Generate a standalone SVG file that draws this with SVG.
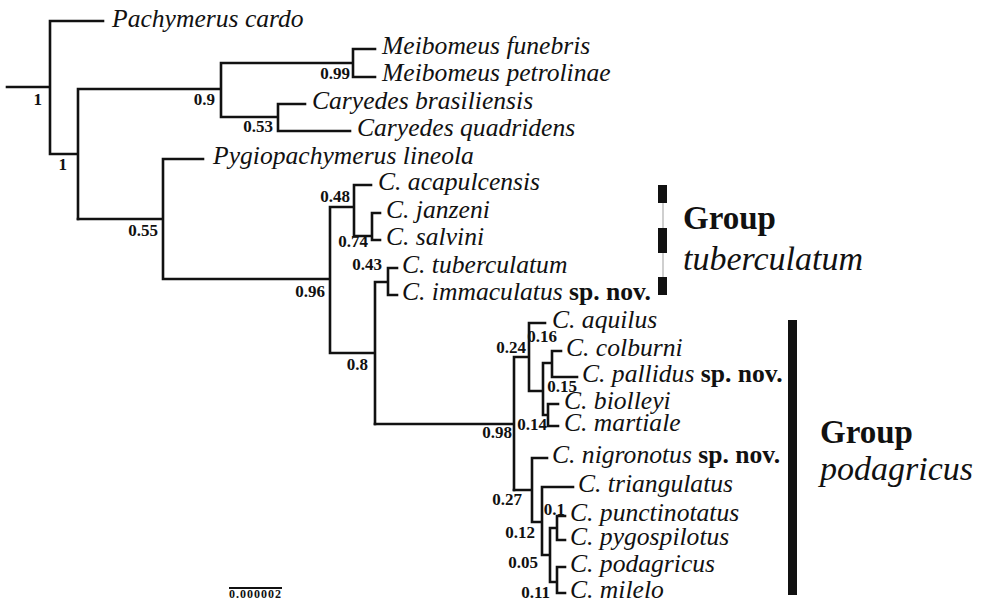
<svg xmlns="http://www.w3.org/2000/svg" width="987" height="607" viewBox="0 0 987 607">
<style>
.br{fill:none;stroke:#111;stroke-width:2.6;stroke-linecap:square}
.sp{font-family:"Liberation Serif","Times New Roman",serif;font-style:italic;font-size:25.6px;fill:#111}
.nv{font-style:normal;font-weight:bold}
.s{font-family:"Liberation Serif","Times New Roman",serif;font-weight:bold;font-size:17px;fill:#111;text-anchor:end}
.g1{font-family:"Liberation Serif","Times New Roman",serif;font-weight:bold;font-size:33px;fill:#111}
.g2{font-family:"Liberation Serif","Times New Roman",serif;font-style:italic;font-size:34px;fill:#111}
</style>
<rect width="987" height="607" fill="#fff"/>
<g id="connectors" class="br">
<path d="M7,87H50M50,21V154M50,21H103M50,154H78M78,89V219M78,89H221M221,63V117M221,63H353M353,49V77M353,49H375M353,77H375M221,117H278M278,104V131M278,104H305M278,131H350"/>
<path d="M78,219H163M163,159V279M163,159H203M163,279H330M330,207V353M330,207H354M354,185V236M354,185H371M354,236H372M372,213V240M372,213H380M372,240H380M330,353H375M375,282V424M375,282H388M388,268V295M388,268H397M388,295H397"/>
<path d="M375,424H514M514,357V490M514,357H529M529,323V391M529,323H545M529,391H543M543,363V415M543,363H552M552,351V377M552,351H561M552,377H577M543,415H548M548,404V426M548,404H558M548,426H558"/>
<path d="M514,490H532M532,458V522M532,458H547M532,522H542M542,487V555M542,487H573M542,555H550M550,528V582M550,528H557M557,516V540M557,516H565M557,540H565M550,582H557M557,567V593M557,567H565M557,593H565"/>
</g>
<g id="tips">
<g id="n-pachymerus"><text class="sp" x="112" y="27">Pachymerus cardo</text></g>
<g id="n-mfunebris"><text class="sp" x="382" y="54">Meibomeus funebris</text></g>
<g id="n-mpetrolinae"><text class="sp" x="382" y="81">Meibomeus petrolinae</text></g>
<g id="n-cbrasiliensis"><text class="sp" x="312" y="109">Caryedes brasiliensis</text></g>
<g id="n-cquadridens"><text class="sp" x="357" y="136">Caryedes quadridens</text></g>
<g id="n-pygio"><text class="sp" x="213" y="164">Pygiopachymerus lineola</text></g>
<g id="n-acapulcensis"><text class="sp" x="378" y="190">C. acapulcensis</text></g>
<g id="n-janzeni"><text class="sp" x="386" y="218">C. janzeni</text></g>
<g id="n-salvini"><text class="sp" x="386" y="245">C. salvini</text></g>
<g id="n-tuberculatum"><text class="sp" x="402" y="273">C. tuberculatum</text></g>
<g id="n-immaculatus"><text class="sp" x="402" y="300">C. immaculatus <tspan class="nv">sp. nov.</tspan></text></g>
<g id="n-aquilus"><text class="sp" x="552" y="328">C. aquilus</text></g>
<g id="n-colburni"><text class="sp" x="566" y="356">C. colburni</text></g>
<g id="n-pallidus"><text class="sp" x="582" y="382">C. pallidus <tspan class="nv">sp. nov.</tspan></text></g>
<g id="n-biolleyi"><text class="sp" x="564" y="409">C. biolleyi</text></g>
<g id="n-martiale"><text class="sp" x="564" y="431">C. martiale</text></g>
<g id="n-nigronotus"><text class="sp" x="552" y="463">C. nigronotus <tspan class="nv">sp. nov.</tspan></text></g>
<g id="n-triangulatus"><text class="sp" x="578" y="492">C. triangulatus</text></g>
<g id="n-punctinotatus"><text class="sp" x="570" y="521">C. punctinotatus</text></g>
<g id="n-pygospilotus"><text class="sp" x="570" y="545">C. pygospilotus</text></g>
<g id="n-podagricus"><text class="sp" x="570" y="572">C. podagricus</text></g>
<g id="n-milelo"><text class="sp" x="570" y="598">C. milelo</text></g>
</g>
<g id="support">
<text class="s" x="42" y="105">1</text>
<text class="s" x="67" y="170">1</text>
<text class="s" x="215" y="105">0.9</text>
<text class="s" x="350" y="79">0.99</text>
<text class="s" x="273" y="132">0.53</text>
<text class="s" x="158" y="236">0.55</text>
<text class="s" x="350" y="202">0.48</text>
<text class="s" x="368" y="247">0.74</text>
<text class="s" x="325" y="297">0.96</text>
<text class="s" x="382" y="270">0.43</text>
<text class="s" x="368" y="370">0.8</text>
<text class="s" x="512" y="438">0.98</text>
<text class="s" x="526" y="353">0.24</text>
<text class="s" x="557" y="342">0.16</text>
<text class="s" x="577" y="392">0.15</text>
<text class="s" x="547" y="430">0.14</text>
<text class="s" x="522" y="505">0.27</text>
<text class="s" x="535" y="538">0.12</text>
<text class="s" x="565" y="515">0.1</text>
<text class="s" x="538" y="568">0.05</text>
<text class="s" x="550" y="598">0.11</text>
</g>
<g id="group-tuberculatum">
<line x1="663" y1="185" x2="663" y2="295" stroke="#cfcfcf" stroke-width="2"/>
<rect x="658" y="185" width="9" height="18" fill="#111"/>
<rect x="658" y="228" width="9" height="25" fill="#111"/>
<rect x="658" y="277" width="9" height="18" fill="#111"/>
<text class="g1" x="683" y="229">Group</text>
<text class="g2" x="683" y="270">tuberculatum</text>
</g>
<g id="group-podagricus">
<rect x="788" y="320" width="9" height="275" fill="#111"/>
<text class="g1" x="820" y="443">Group</text>
<text class="g2" x="820" y="480">podagricus</text>
</g>
<g id="scale">
<line x1="229" y1="588" x2="282" y2="588" stroke="#111" stroke-width="2"/>
<text x="229" y="598" font-family="Liberation Serif, serif" font-weight="bold" font-size="12" textLength="52" fill="#111">0.000002</text>
</g>
</svg>
